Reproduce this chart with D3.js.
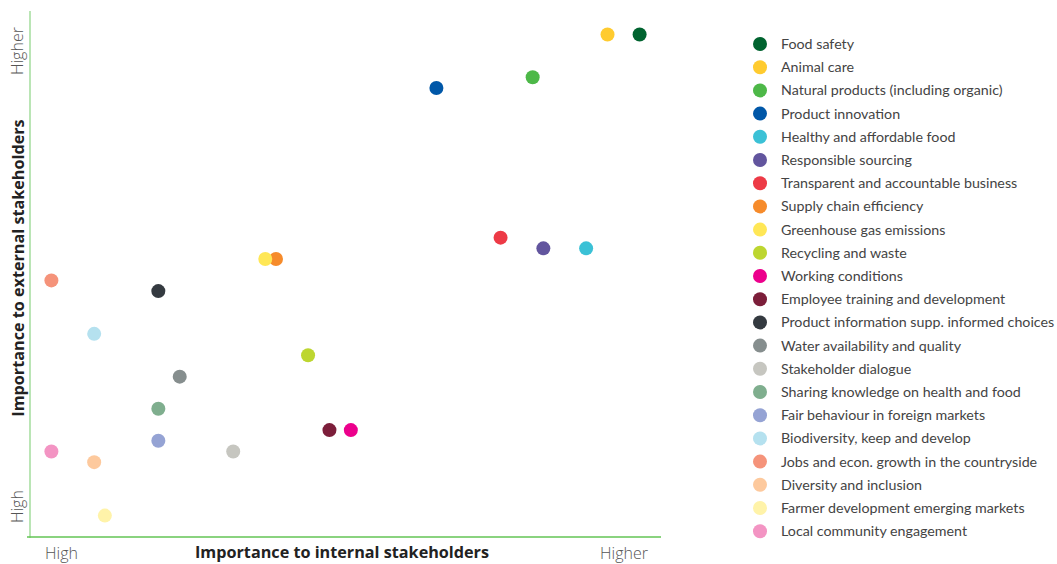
<!DOCTYPE html>
<html>
<head>
<meta charset="utf-8">
<script src="https://cdn.jsdelivr.net/npm/d3@7"></script>
<style>
  html, body { margin: 0; padding: 0; background: #fff; }
  svg { display: block; font-family: Lato, "Open Sans", sans-serif; }
  .end { font-family: "Open Sans", sans-serif; font-weight: 300; font-size: 16px; fill: #555; }
  .title { font-family: "Open Sans", sans-serif; font-weight: 700; font-size: 16.2px; fill: #222; }
</style>
</head>
<body>
<svg id="chart" width="1057" height="564"></svg>
<script>
// Materiality topics
const topics = [
  "Food safety", "Animal care", "Natural products (including organic)", "Product innovation",
  "Healthy and affordable food", "Responsible sourcing", "Transparent and accountable business",
  "Supply chain efficiency", "Greenhouse gas emissions", "Recycling and waste", "Working conditions",
  "Employee training and development", "Product information supp. informed choices",
  "Water availability and quality", "Stakeholder dialogue", "Sharing knowledge on health and food",
  "Fair behaviour in foreign markets", "Biodiversity, keep and develop",
  "Jobs and econ. growth in the countryside", "Diversity and inclusion",
  "Farmer development emerging markets", "Local community engagement"
];
// Importance to internal stakeholders (x)
const internalScore = [57, 54, 47, 38, 52, 48, 44, 23, 22, 26, 30, 28, 12, 14, 19, 12, 12, 6, 2, 6, 7, 2];
// Importance to external stakeholders (y)
const externalScore = [47, 47, 43, 42, 27, 27, 28, 26, 26, 17, 10, 10, 23, 15, 8, 12, 9, 19, 24, 7, 2, 8];
const topicColors = [
  "#00632f", "#ffcb2f", "#4db848", "#0057a8", "#3bc1d6", "#62559e", "#ed3a46",
  "#f68b2b", "#ffe756", "#bdd630", "#ec008c", "#7c1e3a", "#343a40", "#868e8e",
  "#c6c6c0", "#7fae8e", "#95a3d4", "#b5e1ef", "#f5937a", "#fdc99d", "#fff3a9", "#f394c3"
];
const axisEnds = ["High", "Higher"];

const svg = d3.select("#chart");
const x = d3.scaleLinear().domain([0, 59]).range([30, 661]);
const y = d3.scaleLinear().domain([0, 49.2]).range([537, 11]);

// Axis lines
svg.append("line").attr("x1", 30).attr("x2", 30).attr("y1", 11).attr("y2", 538)
  .attr("stroke", "#a3dc9c").attr("stroke-width", 1.5);
svg.append("line").attr("x1", 27).attr("x2", 661).attr("y1", 537).attr("y2", 537)
  .attr("stroke", "#63c455").attr("stroke-width", 1.5);

// Axis end labels
svg.append("text").attr("class", "end").attr("x", 45).attr("y", 559).text(axisEnds[0]);
svg.append("text").attr("class", "end").attr("x", 648).attr("y", 559)
  .attr("text-anchor", "end").text(axisEnds[1]);
svg.append("text").attr("class", "end").attr("transform", "translate(23,523) rotate(-90)")
  .text(axisEnds[0]);
svg.append("text").attr("class", "end").attr("transform", "translate(23,75) rotate(-90)")
  .text(axisEnds[1]);

// Axis titles
svg.append("text").attr("class", "title").attr("x", 342).attr("y", 558)
  .attr("text-anchor", "middle").text("Importance to internal stakeholders");
svg.append("text").attr("class", "title").attr("transform", "translate(24,268) rotate(-90)")
  .attr("text-anchor", "middle").text("Importance to external stakeholders");

// Points
const points = topics.map((t, i) => ({ t, x: internalScore[i], y: externalScore[i], c: topicColors[i] }));
svg.append("g").selectAll("circle").data(points).join("circle")
  .attr("cx", d => x(d.x)).attr("cy", d => y(d.y)).attr("r", 7)
  .attr("fill", d => d.c);

// Legend
const leg = svg.append("g").attr("transform", "translate(760,44)");
const row = leg.selectAll("g").data(points).join("g")
  .attr("transform", (d, i) => `translate(0,${i * 23.2})`);
row.append("circle").attr("r", 7).attr("fill", d => d.c);
row.append("text").attr("x", 21).attr("y", 5).attr("font-size", 14.25)
  .attr("fill", "#444").text(d => d.t);
</script>
</body>
</html>
